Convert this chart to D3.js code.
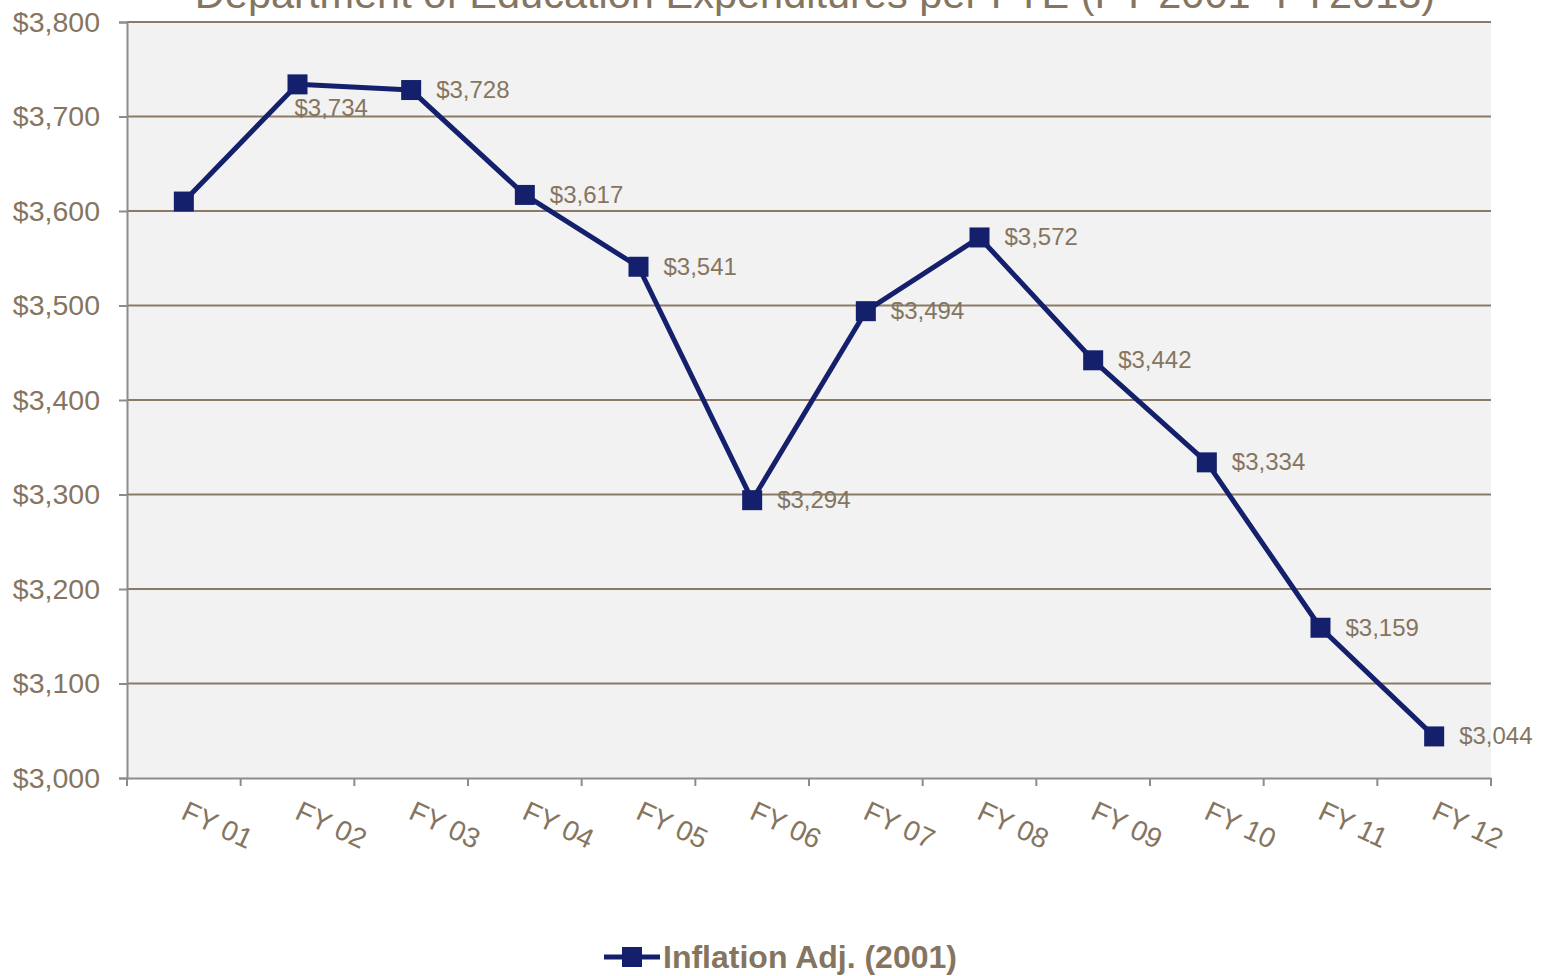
<!DOCTYPE html>
<html>
<head>
<meta charset="utf-8">
<script src="https://cdn.jsdelivr.net/npm/d3@7/dist/d3.min.js"></script>
<style>
  html, body { margin: 0; padding: 0; background: #ffffff; }
  svg { display: block; font-family: "Liberation Sans", Arial, sans-serif; }
</style>
</head>
<body>
<svg id="chart" width="1543" height="976"></svg>
<script>
// chart data
const categories = ["FY 01", "FY 02", "FY 03", "FY 04", "FY 05", "FY 06", "FY 07", "FY 08", "FY 09", "FY 10", "FY 11", "FY 12"];
const inflationAdj = [3610, 3734, 3728, 3617, 3541, 3294, 3494, 3572, 3442, 3334, 3159, 3044];
const showLabel = [false, true, true, true, true, true, true, true, true, true, true, true];
const yTicks = [3000, 3100, 3200, 3300, 3400, 3500, 3600, 3700, 3800];
const seriesName = "Inflation Adj. (2001)";
const title = "Department of Education Expenditures per FTE (FY 2001- FY2013)";

const plot = { left: 127, right: 1491, top: 22, bottom: 778 };
const textColor = "#857560";
const lineColor = "#14206b";
const gridColor = "#8b7b66";
const axisColor = "#8c8c8c";

const svg = d3.select("#chart");

const x = d3.scaleBand().domain(categories).range([plot.left, plot.right]).padding(0);
const y = d3.scaleLinear().domain([3000, 3800]).range([plot.bottom, plot.top]);
const fmt = v => "$" + d3.format(",")(v);

// plot background
svg.append("rect")
    .attr("x", plot.left)
    .attr("y", plot.top)
    .attr("width", plot.right - plot.left)
    .attr("height", plot.bottom - plot.top)
    .attr("fill", "#f2f2f2");

// gridlines
svg.append("g")
    .selectAll("line")
    .data(yTicks.filter(t => t > 3000))
    .join("line")
    .attr("x1", plot.left)
    .attr("x2", plot.right)
    .attr("y1", d => y(d))
    .attr("y2", d => y(d))
    .attr("stroke", gridColor)
    .attr("stroke-width", 2);

// y axis
const yAxis = svg.append("g")
    .attr("transform", `translate(${plot.left},0)`)
    .call(d3.axisLeft(y).tickValues(yTicks).tickFormat(fmt).tickSize(8).tickPadding(19));
yAxis.select(".domain").attr("stroke", axisColor).attr("stroke-width", 2);
yAxis.selectAll(".tick line").attr("stroke", axisColor).attr("stroke-width", 2);
yAxis.selectAll(".tick text")
    .attr("fill", textColor)
    .style("font-size", "28.5px")
    .style("font-family", "'Liberation Sans', Arial, sans-serif");

// x axis
const xAxis = svg.append("g")
    .attr("transform", `translate(0,${plot.bottom})`)
    .call(d3.axisBottom(x).tickSize(0).tickFormat(""));
xAxis.select(".domain").attr("stroke", axisColor).attr("stroke-width", 2);

const xTickPos = categories.map(c => x(c)).concat([x(categories[categories.length - 1]) + x.bandwidth()]);
svg.append("g")
    .selectAll("line")
    .data(xTickPos)
    .join("line")
    .attr("x1", d => d)
    .attr("x2", d => d)
    .attr("y1", plot.bottom)
    .attr("y2", plot.bottom + 8)
    .attr("stroke", axisColor)
    .attr("stroke-width", 2);

svg.append("g")
    .selectAll("text")
    .data(categories)
    .join("text")
    .attr("transform", d => `translate(${x(d) + x.bandwidth() / 2 - 4},${plot.bottom + 40}) rotate(25)`)
    .attr("fill", textColor)
    .style("font-size", "28px")
    .text(d => d);

// line
const line = d3.line()
    .x((d, i) => x(categories[i]) + x.bandwidth() / 2)
    .y(d => y(d));

svg.append("path")
    .datum(inflationAdj)
    .attr("fill", "none")
    .attr("stroke", lineColor)
    .attr("stroke-width", 5)
    .attr("stroke-linejoin", "round")
    .attr("d", line);

// markers
const ms = 20;
svg.append("g")
    .selectAll("rect")
    .data(inflationAdj)
    .join("rect")
    .attr("x", (d, i) => x(categories[i]) + x.bandwidth() / 2 - ms / 2)
    .attr("y", d => y(d) - ms / 2)
    .attr("width", ms)
    .attr("height", ms)
    .attr("fill", lineColor);

// data labels
svg.append("g")
    .selectAll("text")
    .data(inflationAdj.map((v, i) => ({ v, i })).filter(d => showLabel[d.i]))
    .join("text")
    .attr("x", d => x(categories[d.i]) + x.bandwidth() / 2 + (d.i === 1 ? -3 : 25))
    .attr("y", d => y(d.v) + (d.i === 1 ? 32 : 8))
    .attr("fill", textColor)
    .style("font-size", "24px")
    .text(d => fmt(d.v));

// title (partially cut off at top)
svg.append("text")
    .attr("x", 815)
    .attr("y", 8)
    .attr("text-anchor", "middle")
    .attr("fill", textColor)
    .style("font-size", "41.5px")
    .text(title);

// legend
const lg = svg.append("g").attr("transform", "translate(604,957)");
lg.append("line")
    .attr("x1", 0).attr("x2", 56)
    .attr("y1", 0).attr("y2", 0)
    .attr("stroke", lineColor)
    .attr("stroke-width", 5);
lg.append("rect")
    .attr("x", 18).attr("y", -10)
    .attr("width", 20).attr("height", 20)
    .attr("fill", lineColor);
lg.append("text")
    .attr("x", 59)
    .attr("y", 11)
    .attr("fill", textColor)
    .style("font-size", "32px")
    .style("font-weight", "bold")
    .text(seriesName);
</script>
</body>
</html>
